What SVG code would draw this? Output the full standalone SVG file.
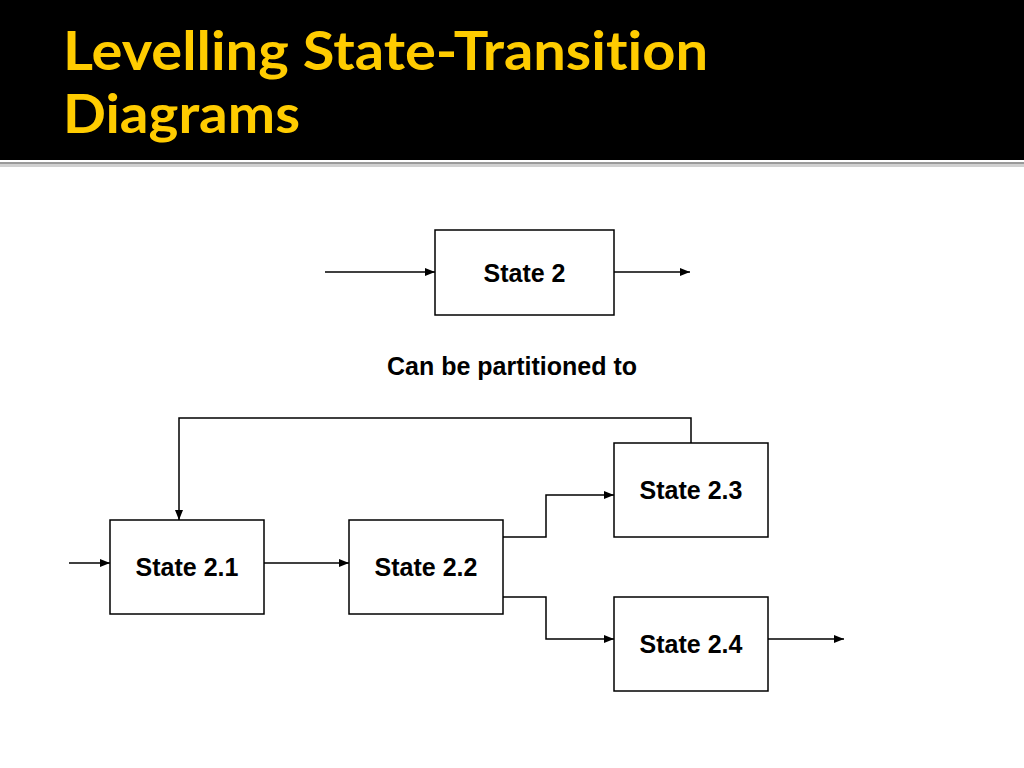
<svg xmlns="http://www.w3.org/2000/svg" width="1024" height="768" viewBox="0 0 1024 768">
<style>
.title{font-family:Lato,"Open Sans","Liberation Sans",sans-serif;font-weight:bold;font-size:54px;fill:#FFCC00;font-variant-ligatures:none}
.box{fill:#fff;stroke:#000;stroke-width:1.5}
.lbl{font-family:"Liberation Sans",Arial,sans-serif;font-weight:bold;font-size:25px;fill:#000;text-anchor:middle}
.conn{fill:none;stroke:#000;stroke-width:1.5}
</style>
<defs>
<marker id="ah" markerUnits="userSpaceOnUse" markerWidth="10" markerHeight="8" refX="10" refY="4" orient="auto">
<path d="M0,0 L10,4 L0,8 z" fill="#000"/>
</marker>
</defs>
<rect x="0" y="0" width="1024" height="768" fill="#fff"/>
<g id="header">
<rect x="0" y="0" width="1024" height="160" fill="#000"/>
<rect x="0" y="162" width="1024" height="2" fill="#9a9a9a"/>
<rect x="0" y="164" width="1024" height="3" fill="#d0d0d0"/>
<text class="title" x="63" y="70" textLength="645" lengthAdjust="spacingAndGlyphs">Levelling State-Transition</text>
<text class="title" x="63" y="133" textLength="237" lengthAdjust="spacingAndGlyphs">Diagrams</text>
</g>
<g id="connectors">
<path class="conn" d="M325,272 H435" marker-end="url(#ah)"/>
<path class="conn" d="M614,272 H690" marker-end="url(#ah)"/>
<path class="conn" d="M69,563 H110" marker-end="url(#ah)"/>
<path class="conn" d="M264,563 H349" marker-end="url(#ah)"/>
<path class="conn" d="M691,443 V418 H179 V520" marker-end="url(#ah)"/>
<path class="conn" d="M503,537 H546 V495 H614" marker-end="url(#ah)"/>
<path class="conn" d="M503,597 H546 V639 H614" marker-end="url(#ah)"/>
<path class="conn" d="M768,639 H844" marker-end="url(#ah)"/>
</g>
<g id="state2">
<rect class="box" x="435" y="230" width="179" height="85"/>
<text class="lbl" x="524.5" y="282">State 2</text>
</g>
<g id="caption">
<text class="lbl" x="512" y="375">Can be partitioned to</text>
</g>
<g id="state21">
<rect class="box" x="110" y="520" width="154" height="94"/>
<text class="lbl" x="187" y="576">State 2.1</text>
</g>
<g id="state22">
<rect class="box" x="349" y="520" width="154" height="94"/>
<text class="lbl" x="426" y="576">State 2.2</text>
</g>
<g id="state23">
<rect class="box" x="614" y="443" width="154" height="94"/>
<text class="lbl" x="691" y="499">State 2.3</text>
</g>
<g id="state24">
<rect class="box" x="614" y="597" width="154" height="94"/>
<text class="lbl" x="691" y="653">State 2.4</text>
</g>
</svg>
